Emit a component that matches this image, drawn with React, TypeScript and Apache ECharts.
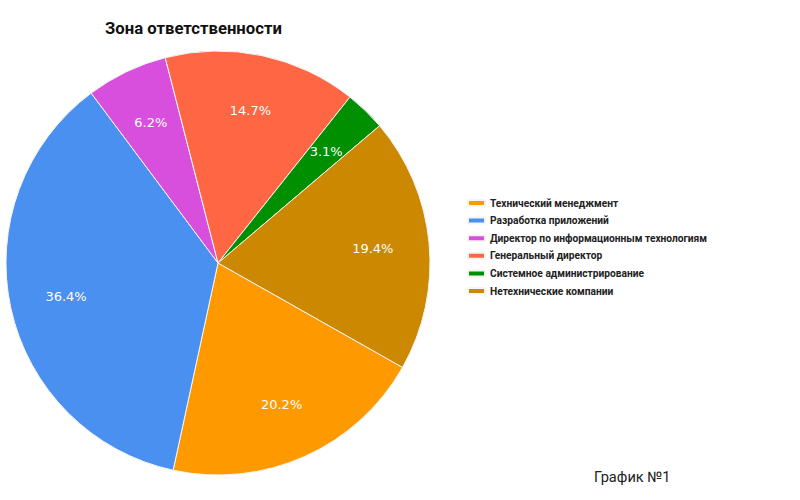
import React, { useEffect, useRef } from "react";
import * as echarts from "echarts";

const titleText = "Зона ответственности";
const footerText = "График №1";
const categories = [
  "Технический менеджмент",
  "Разработка приложений",
  "Директор по информационным технологиям",
  "Генеральный директор",
  "Системное администрирование",
  "Нетехнические компании",
];
const shares = [20.2, 36.4, 6.2, 14.7, 3.1, 19.4];
const colors = ["#FF9900", "#4A90F0", "#D94FDD", "#FF6644", "#008F00", "#CC8800"];

const narrow = "Roboto, sans-serif";

export default function App() {
  const ref = useRef<HTMLDivElement>(null);
  useEffect(() => {
    document.body.style.margin = "0";
    if (!ref.current) return;
    const chart = echarts.init(ref.current, undefined, { renderer: "svg" });
    const data = categories.map((name, i) => ({ name, value: shares[i] }));
    chart.setOption({
      animation: false,
      backgroundColor: "#ffffff",
      color: colors,
      title: [
        {
          text: titleText,
          left: 105,
          top: 20,
          padding: 0,
          textStyle: {
            fontFamily: narrow,
            fontWeight: "bold",
            fontSize: 16.7,
            color: "#111",
          },
        },
        {
          text: footerText,
          left: 594,
          top: 469,
          padding: 0,
          textStyle: {
            fontFamily: narrow,
            fontWeight: "normal",
            fontSize: 14.6,
            color: "#222",
          },
        },
      ],
      legend: {
        orient: "vertical",
        left: 467,
        top: 197,
        padding: 0,
        data: categories,
        icon: "rect",
        itemWidth: 17,
        itemHeight: 6,
        itemGap: 5.6,
        textStyle: {
          fontFamily: narrow,
          fontWeight: "bold",
          fontSize: 10.2,
          lineHeight: 12,
          color: "#222",
        },
        selectedMode: false,
      },
      series: [
        {
          type: "pie",
          center: [218, 263],
          radius: [0, 212],
          startAngle: -29.5,
          clockwise: true,
          data,
          label: { show: false },
          labelLine: { show: false },
          itemStyle: { borderColor: "#f4f4f4", borderWidth: 1 },
          emphasis: { disabled: true },
        },
        {
          type: "pie",
          center: [218, 263],
          radius: [0, 305],
          startAngle: -29.5,
          clockwise: true,
          silent: true,
          data,
          itemStyle: { color: "transparent", borderWidth: 0 },
          label: {
            show: true,
            position: "inside",
            formatter: (p: any) => p.value.toFixed(1) + "%",
            color: "#ffffff",
            fontFamily: "DejaVu Sans",
            fontSize: 13,
          },
          labelLine: { show: false },
          emphasis: { disabled: true },
        },
      ],
    });
    return () => chart.dispose();
  }, []);
  return <div ref={ref} style={{ width: 800, height: 500 }} />;
}
